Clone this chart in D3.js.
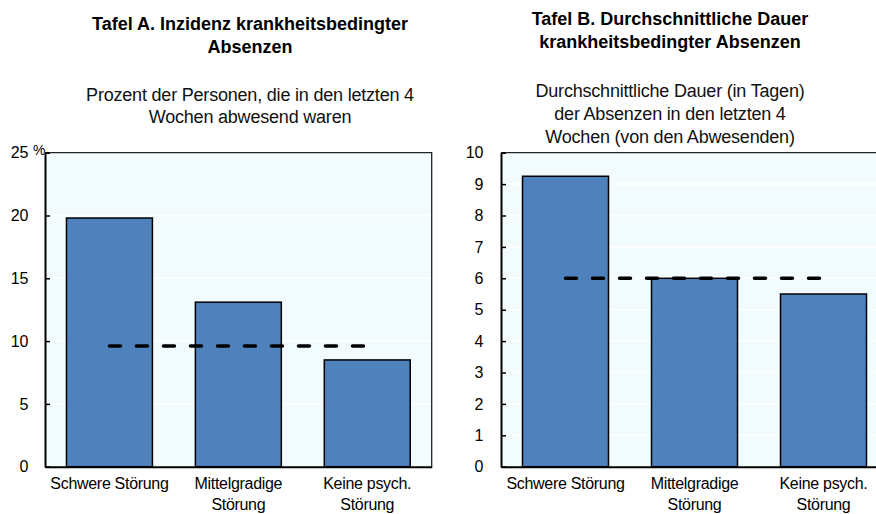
<!DOCTYPE html>
<html>
<head>
<meta charset="utf-8">
<script src="https://cdn.jsdelivr.net/npm/d3@7"></script>
<style>
  body { margin: 0; background: #fff; }
  svg text { font-family: "Liberation Sans", Arial, sans-serif; fill: #000; }
  .tick text { font-size: 16px; letter-spacing: -0.3px; }
  .ttl { font-size: 18px; font-weight: bold; letter-spacing: 0px; }
  .sub { font-size: 18px; letter-spacing: -0.2px; fill: #111; }
</style>
</head>
<body>
<div id="chart"></div>
<script>
var width = 876,
    height = 514;

// data
var categories = ["Schwere Störung", "Mittelgradige Störung", "Keine psych. Störung"];
var incidence = [19.8, 13.1, 8.5];      // Tafel A, %
var incidenceAvg = 9.6;
var duration = [9.25, 6.0, 5.5];        // Tafel B, Tage
var durationAvg = 6.0;
var ticksA = [0, 5, 10, 15, 20, 25];
var ticksB = [0, 1, 2, 3, 4, 5, 6, 7, 8, 9, 10];

var svg = d3.select("#chart").append("svg")
    .attr("width", width)
    .attr("height", height);

var plotTop = 152.7, plotBottom = 466.7;

drawPanel({
  left: 45, right: 431.7, max: 25, ticks: ticksA,
  values: incidence, avg: incidenceAvg, pad: 17, unit: "%",
  titleX: 250, title: ["Tafel A. Inzidenz krankheitsbedingter", "Absenzen"], titleY: [30, 53],
  sub: ["Prozent der Personen, die in den letzten 4", "Wochen abwesend waren"], subY: [101, 123]
});

drawPanel({
  left: 501, right: 888, max: 10, ticks: ticksB,
  values: duration, avg: durationAvg, pad: 18, unit: null,
  titleX: 670, title: ["Tafel B. Durchschnittliche Dauer", "krankheitsbedingter Absenzen"], titleY: [25, 48],
  sub: ["Durchschnittliche Dauer (in Tagen)", "der Absenzen in den letzten 4", "Wochen (von den Abwesenden)"], subY: [97, 120, 143]
});

function drawPanel(p) {
  var x = d3.scaleBand()
      .domain(categories)
      .range([p.left, p.right])
      .paddingInner(1 / 3)
      .paddingOuter(1 / 6);

  var y = d3.scaleLinear()
      .domain([0, p.max])
      .range([plotBottom, plotTop]);

  var g = svg.append("g");

  // background
  g.append("rect")
      .attr("x", p.left)
      .attr("y", plotTop)
      .attr("width", p.right - p.left)
      .attr("height", plotBottom - plotTop)
      .attr("fill", "#f2fcff");

  // faint gridlines
  g.selectAll("line.grid")
      .data(p.ticks.slice(1, -1))
      .enter().append("line")
      .attr("class", "grid")
      .attr("x1", p.left).attr("x2", p.right)
      .attr("y1", function(d) { return y(d); })
      .attr("y2", function(d) { return y(d); })
      .attr("stroke", "#ffffff")
      .attr("stroke-width", 1.5);

  // frame top and right
  g.append("path")
      .attr("d", "M" + p.left + "," + plotTop + "H" + p.right + "V" + plotBottom)
      .attr("fill", "none")
      .attr("stroke", "#222")
      .attr("stroke-width", 1.3);

  // bars
  g.selectAll("rect.bar")
      .data(p.values)
      .enter().append("rect")
      .attr("class", "bar")
      .attr("x", function(d, i) { return x(categories[i]); })
      .attr("y", function(d) { return y(d); })
      .attr("width", x.bandwidth())
      .attr("height", function(d) { return plotBottom - y(d); })
      .attr("fill", "#4f81bd")
      .attr("stroke", "#000")
      .attr("stroke-width", 1.5);

  // average line
  var cx0 = x(categories[0]) + x.bandwidth() / 2,
      cx1 = x(categories[categories.length - 1]) + x.bandwidth() / 2;
  g.append("line")
      .attr("x1", cx0).attr("x2", cx1)
      .attr("y1", y(p.avg)).attr("y2", y(p.avg))
      .attr("stroke", "#000")
      .attr("stroke-width", 3.5)
      .attr("stroke-linecap", "round")
      .attr("stroke-dasharray", "11,16");

  // y axis
  var yAxis = g.append("g")
      .attr("transform", "translate(" + p.left + ",0)")
      .call(d3.axisLeft(y)
        .tickValues(p.ticks)
        .tickSizeInner(-5)
        .tickSizeOuter(0)
        .tickPadding(p.pad));
  yAxis.select(".domain").attr("stroke", "#000").attr("stroke-width", 2);
  yAxis.selectAll(".tick line").attr("stroke", "#000").attr("stroke-width", 1.5);

  // x axis
  var xAxis = g.append("g")
      .attr("transform", "translate(0," + plotBottom + ")")
      .call(d3.axisBottom(x).tickSize(0).tickPadding(0));
  xAxis.select(".domain").attr("stroke", "#000").attr("stroke-width", 2);
  xAxis.selectAll(".tick text").call(wrap, 126);

  if (p.unit) {
    g.append("text")
        .attr("x", p.left - 12)
        .attr("y", plotTop + 2)
        .attr("font-size", "14px")
        .text(p.unit);
  }

  g.selectAll("text.ttl")
      .data(p.title)
      .enter().append("text")
      .attr("class", "ttl")
      .attr("x", p.titleX)
      .attr("y", function(d, i) { return p.titleY[i]; })
      .attr("text-anchor", "middle")
      .text(function(d) { return d; });

  g.selectAll("text.sub")
      .data(p.sub)
      .enter().append("text")
      .attr("class", "sub")
      .attr("x", p.titleX)
      .attr("y", function(d, i) { return p.subY[i]; })
      .attr("text-anchor", "middle")
      .text(function(d) { return d; });
}

function wrap(text, w) {
  text.each(function() {
    var t = d3.select(this),
        words = t.text().split(/\s+/),
        line = [],
        lineNo = 0,
        tspan = t.text(null).attr("y", null).attr("dy", null)
          .append("tspan").attr("x", 0).attr("y", 22);
    words.forEach(function(word) {
      line.push(word);
      tspan.text(line.join(" "));
      if (tspan.node().getComputedTextLength() > w && line.length > 1) {
        line.pop();
        tspan.text(line.join(" "));
        line = [word];
        lineNo++;
        tspan = t.append("tspan").attr("x", 0).attr("y", 22 + lineNo * 21.5).text(word);
      }
    });
  });
}
</script>
</body>
</html>
